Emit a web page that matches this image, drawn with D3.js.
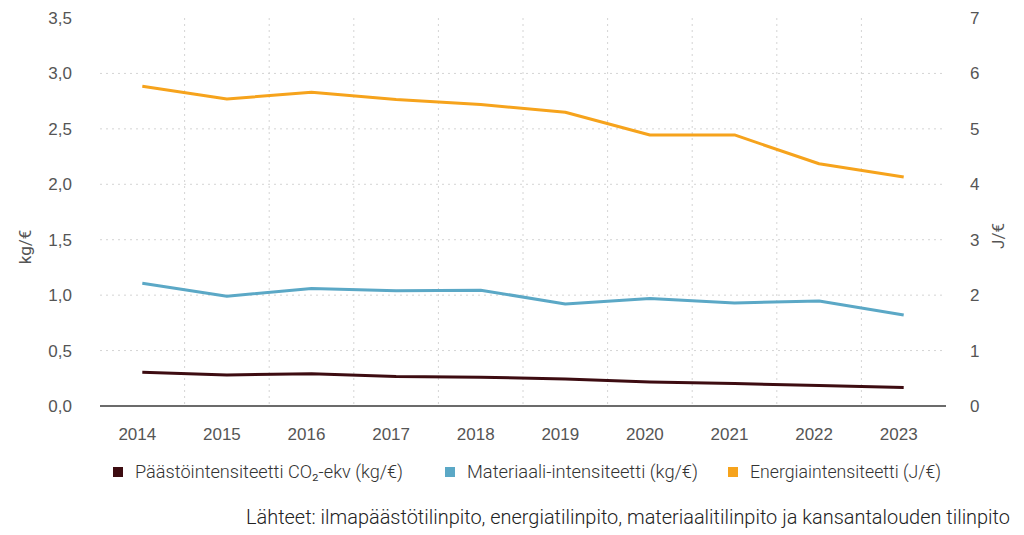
<!DOCTYPE html>
<html>
<head>
<meta charset="utf-8">
<script src="https://cdn.jsdelivr.net/npm/d3@7"></script>
<style>
  body { margin: 0; background: #fff; }
  svg { display: block; font-family: Roboto, "Noto Sans", sans-serif; }
</style>
</head>
<body>
<div id="chart"></div>
<script>
const years = [2014, 2015, 2016, 2017, 2018, 2019, 2020, 2021, 2022, 2023];
// kg/€ (left axis)
const emissions = [0.304, 0.28, 0.29, 0.266, 0.26, 0.243, 0.216, 0.203, 0.185, 0.167];
const material = [1.107, 0.99, 1.06, 1.04, 1.045, 0.92, 0.97, 0.93, 0.947, 0.82];
// J/€ (right axis)
const energy = [5.77, 5.54, 5.66, 5.53, 5.44, 5.30, 4.89, 4.89, 4.37, 4.13];

const leftTicks = [0, 0.5, 1, 1.5, 2, 2.5, 3, 3.5];
const rightTicks = [0, 1, 2, 3, 4, 5, 6, 7];

const seriesNames = ['Päästöintensiteetti CO₂-ekv (kg/€)', 'Materiaali-intensiteetti (kg/€)', 'Energiaintensiteetti (J/€)'];
const seriesColors = ['#3d0c11', '#5ba8c6', '#f6a31c'];
const sourceText = 'Lähteet: ilmapäästötilinpito, energiatilinpito, materiaalitilinpito ja kansantalouden tilinpito';

const width = 1024, height = 535;
const margin = { top: 18, right: 78, bottom: 129, left: 100 };

const svg = d3.select('#chart').append('svg')
    .attr('width', width)
    .attr('height', height);

const x = d3.scaleBand()
    .domain(years)
    .range([margin.left, width - margin.right]);

const yLeft = d3.scaleLinear()
    .domain([0, 3.5])
    .range([height - margin.bottom, margin.top]);

const yRight = d3.scaleLinear()
    .domain([0, 7])
    .range([height - margin.bottom, margin.top]);

const cx = d => x(d) + x.bandwidth() / 2;

// Grid lines
const grid = svg.append('g').attr('class', 'grid')
    .attr('stroke', '#d4d4d4')
    .attr('stroke-width', 1)
    .attr('stroke-dasharray', '2,4');

grid.selectAll('.hgrid')
    .data(leftTicks.filter(t => t > 0 && t < 3.5))
    .join('line')
    .attr('x1', margin.left)
    .attr('x2', width - margin.right)
    .attr('y1', d => yLeft(d))
    .attr('y2', d => yLeft(d));

grid.selectAll('.vgrid')
    .data(years.slice(1))
    .join('line')
    .attr('x1', d => x(d))
    .attr('x2', d => x(d))
    .attr('y1', margin.top)
    .attr('y2', height - margin.bottom);

// Left axis
const leftAxis = svg.append('g')
    .attr('transform', `translate(${margin.left - 28},0)`)
    .call(d3.axisLeft(yLeft)
        .tickValues(leftTicks)
        .tickSize(0)
        .tickPadding(0)
        .tickFormat(d => d3.format('.1f')(d).replace('.', ',')));

// Right axis
const rightAxis = svg.append('g')
    .attr('transform', `translate(${width - margin.right + 24},0)`)
    .call(d3.axisRight(yRight)
        .tickValues(rightTicks)
        .tickSize(0)
        .tickPadding(0)
        .tickFormat(d3.format('d')));

// Bottom axis
const bottomAxis = svg.append('g')
    .attr('transform', `translate(-5,${height - margin.bottom + 21})`)
    .call(d3.axisBottom(x).tickSize(0).tickPadding(0));

[leftAxis, rightAxis, bottomAxis].forEach(a => {
    a.select('.domain').remove();
    a.selectAll('text')
        .style('font-size', '17px')
        .style('fill', '#555');
});
bottomAxis.selectAll('text').attr('dy', '0.75em');

// Baseline
svg.append('line')
    .attr('x1', margin.left)
    .attr('x2', width - margin.right)
    .attr('y1', yLeft(0))
    .attr('y2', yLeft(0))
    .attr('stroke', '#6b6b6b')
    .attr('stroke-width', 2);

// Axis titles
svg.append('text')
    .attr('transform', 'translate(31,247) rotate(-90)')
    .attr('text-anchor', 'middle')
    .style('font-size', '17px')
    .style('fill', '#555')
    .text('kg/€');

svg.append('text')
    .attr('transform', 'translate(1004,236) rotate(-90)')
    .attr('text-anchor', 'middle')
    .style('font-size', '17px')
    .style('fill', '#555')
    .text('J/€');

// Lines
const lineLeft = d3.line()
    .x((d, i) => cx(years[i]))
    .y(d => yLeft(d));

const lineRight = d3.line()
    .x((d, i) => cx(years[i]))
    .y(d => yRight(d));

const series = [
    { values: emissions, line: lineLeft, color: seriesColors[0] },
    { values: material, line: lineLeft, color: seriesColors[1] },
    { values: energy, line: lineRight, color: seriesColors[2] }
];

svg.selectAll('.series')
    .data(series)
    .join('path')
    .attr('class', 'series')
    .attr('fill', 'none')
    .attr('stroke', d => d.color)
    .attr('stroke-width', 3)
    .attr('stroke-linejoin', 'round')
    .attr('d', d => d.line(d.values));

// Legend
const legendX = [113, 445, 728];
const legendW = [268, 231, 191];
const legend = svg.append('g').attr('class', 'legend');
seriesNames.forEach((name, i) => {
    const g = legend.append('g').attr('transform', `translate(${legendX[i]},472)`);
    g.append('rect')
        .attr('x', 0)
        .attr('y', -5)
        .attr('width', 10)
        .attr('height', 10)
        .attr('fill', seriesColors[i]);
    g.append('text')
        .attr('x', 22)
        .attr('dy', '0.35em')
        .attr('textLength', legendW[i])
        .attr('lengthAdjust', 'spacingAndGlyphs')
        .style('font-size', '17.5px')
        .style('font-weight', 300)
        .style('fill', '#333')
        .text(name);
});

// Source
svg.append('text')
    .attr('x', 1010)
    .attr('y', 517)
    .attr('dy', '0.35em')
    .attr('text-anchor', 'end')
    .attr('textLength', 764)
    .attr('lengthAdjust', 'spacingAndGlyphs')
    .style('font-size', '20px')
    .style('font-weight', 300)
    .style('fill', '#222')
    .text(sourceText);
</script>
</body>
</html>
